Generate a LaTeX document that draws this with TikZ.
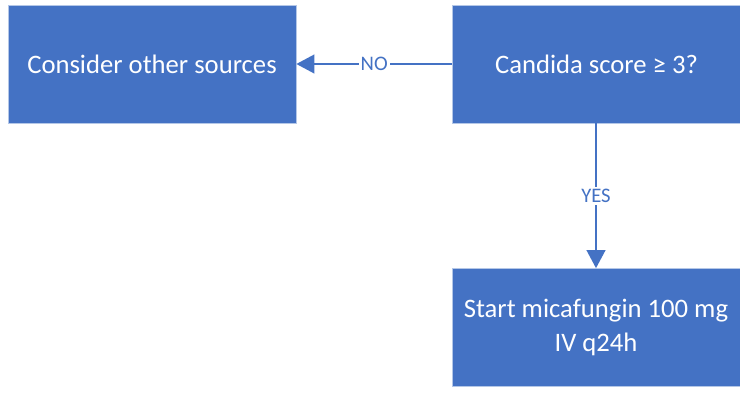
\documentclass[tikz,border=0pt]{standalone}
\usepackage{fontspec}
\setmainfont{Carlito}
\usetikzlibrary{arrows.meta}
\definecolor{officeblue}{RGB}{68,114,196}
\tikzset{
  stepbox/.style={draw={rgb,255:red,180;green,199;blue,231}, line width=0.5pt, fill=officeblue, text=white,
    minimum width=216pt, minimum height=88.5pt, inner sep=0pt, align=center,
    font=\fontsize{20}{25}\selectfont},
  flowline/.style={draw=officeblue, line width=1.5pt, -{Triangle[length=13.5pt,width=14pt]}},
  answer/.style={fill=white, text=officeblue, inner sep=1.5pt, font=\fontsize{15.5}{18}\selectfont}
}
\begin{document}
\begin{tikzpicture}[x=0.75pt,y=0.75pt,yscale=-1,xscale=1]
    \useasboundingbox (0,0) rectangle (740,393);
    \draw (152,64) node [stepbox] (other)   {Consider other sources};
    \draw (596.5,64) node [stepbox] (score) {Candida score ≥ 3?};
    \draw (596,327.5) node [stepbox] (mica) {Start micafungin 100 mg\\IV q24h};
    \draw [flowline] (score.west) -- node [answer] (no) {NO} (other.east);
    \draw [flowline] (score.south -| mica.north) -- node [answer] (yes) {YES} (mica.north);
\end{tikzpicture}
\end{document}
